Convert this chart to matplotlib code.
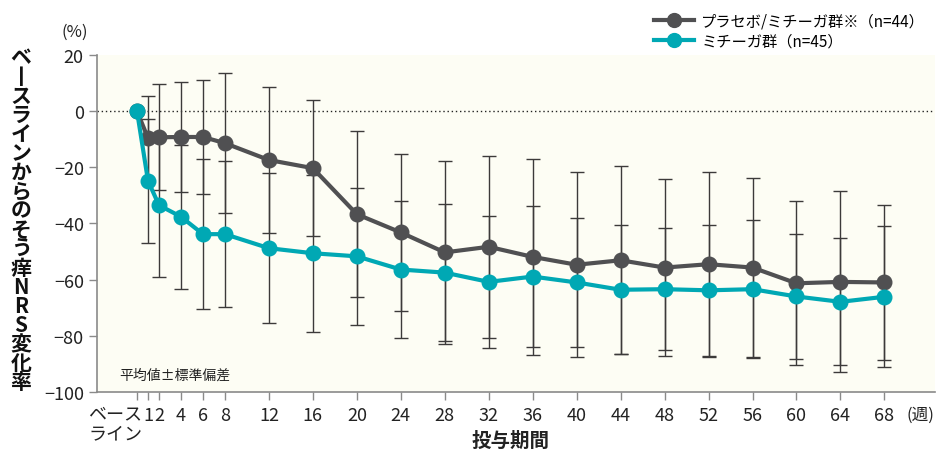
import matplotlib.pyplot as plt
import matplotlib.transforms as mtransforms
import numpy as np

plt.rcParams['font.family'] = ['Noto Sans CJK JP', 'DejaVu Sans']

# 投与期間 (週), 0 = ベースライン
weeks = [0, 1, 2, 4, 6, 8, 12, 16, 20, 24, 28, 32, 36, 40, 44, 48, 52, 56, 60, 64, 68]
tick_labels = ["ベース\nライン", "1", "2", "4", "6", "8", "12", "16", "20", "24", "28",
               "32", "36", "40", "44", "48", "52", "56", "60", "64", "68"]

# プラセボ/ミチーガ群 (n=44)
placebo_mean = [0, -9.6, -9.3, -9.2, -9.2, -11.4, -17.4, -20.3, -36.7, -43.2, -50.3,
                -48.3, -51.9, -54.7, -53.1, -55.7, -54.5, -55.7, -61.3, -60.8, -61.0]
placebo_sd = [0, 15.1, 18.9, 19.5, 20.3, 25.0, 26.1, 24.1, 29.5, 28.1, 32.6,
              32.4, 34.8, 33.0, 33.5, 31.5, 32.9, 31.8, 29.2, 32.2, 27.6]

# ミチーガ群 (n=45)
mitchga_mean = [0, -24.8, -33.5, -37.6, -43.8, -43.8, -48.8, -50.6, -51.7, -56.4, -57.5,
                -60.8, -58.9, -61.0, -63.6, -63.4, -63.8, -63.4, -66.0, -67.9, -66.1]
mitchga_sd = [0, 22.0, 25.4, 25.6, 26.6, 26.1, 26.8, 27.9, 24.3, 24.5, 24.3,
              23.6, 25.1, 23.1, 22.9, 21.8, 23.4, 24.6, 22.4, 22.6, 25.1]

gray = "#505052"
teal = "#00a8b4"
bar_col = "#3c3a3a"

fig = plt.figure(figsize=(9.39, 4.6), dpi=100)
ax = fig.add_axes([0.1033, 0.1457, 0.8924, 0.7326])
ax.set_facecolor("#fdfdf4")

ax.axhline(0, color="#222222", lw=1.0, ls=(0, (1, 2)), zorder=1)

ax.errorbar(weeks[1:], placebo_mean[1:], yerr=placebo_sd[1:], fmt="none",
            ecolor=bar_col, elinewidth=1.0, capsize=5, capthick=1.0, zorder=2)
ax.errorbar(weeks[1:], mitchga_mean[1:], yerr=mitchga_sd[1:], fmt="none",
            ecolor=bar_col, elinewidth=1.0, capsize=5, capthick=1.0, zorder=2)

l1, = ax.plot(weeks, placebo_mean, color=gray, lw=3, marker="o", ms=10.5,
              label="プラセボ/ミチーガ群※（n=44）", zorder=3)
l2, = ax.plot(weeks, mitchga_mean, color=teal, lw=3, marker="o", ms=10.5,
              label="ミチーガ群（n=45）", zorder=4)

ax.set_xlim(-3.64, 72.6)
ax.set_ylim(-100, 20)
ax.set_yticks(np.arange(-100, 21, 20))
ax.set_yticklabels([str(v).replace("-", "−") for v in range(-100, 21, 20)])
ax.set_xticks(weeks)
ax.set_xticklabels([""] + tick_labels[1:])

# baseline label drawn by hand so it can sit a little right of the default spot
trans = mtransforms.blended_transform_factory(ax.transData, ax.transAxes)
trans = trans + mtransforms.ScaledTranslation(5 / 100, -12 / 100, fig.dpi_scale_trans)
ax.text(weeks[0], 0, tick_labels[0], transform=trans, ha="right", va="top",
        fontsize=13, linespacing=1.15, color="#222222")

for s in ["top", "right"]:
    ax.spines[s].set_visible(False)
for s in ["left", "bottom"]:
    ax.spines[s].set_color("#8a8a8a")
    ax.spines[s].set_linewidth(1.2)
ax.tick_params(axis="both", colors="#8a8a8a", labelcolor="#222222",
               labelsize=13, length=6, width=1.0)
ax.tick_params(axis="x", pad=4)

ax.text(-3.64 + 2.0, -94, "平均値±標準偏差", fontsize=10, color="#222222", va="center")
fig.text(920 / 939, 0.098, "(週)", fontsize=12, ha="center", va="center", color="#222222")
fig.text(0.08, 0.93, "(%)", fontsize=12, ha="center", va="center", color="#222222")
fig.text(0.544, 0.04, "投与期間", fontsize=14, fontweight="bold", ha="center",
         va="center", color="#222222")

ylab = "ベ丨スラインからのそう痒NRS変化率"
top_px, bot_px = 58, 383
step = (bot_px - top_px) / (len(ylab) - 1)
for i, ch in enumerate(ylab):
    fig.text(21 / 939, 1 - (top_px + i * step) / 460, ch, fontsize=15,
             fontweight="bold", ha="center", va="center", color="#111111")

fig.legend(handles=[l1, l2], loc="upper right", bbox_to_anchor=(1.0, 1.0),
           frameon=False, fontsize=11, handlelength=2.6, labelspacing=0.15,
           handletextpad=0.5, markerscale=0.95)

fig.savefig("out.png", dpi=100)
